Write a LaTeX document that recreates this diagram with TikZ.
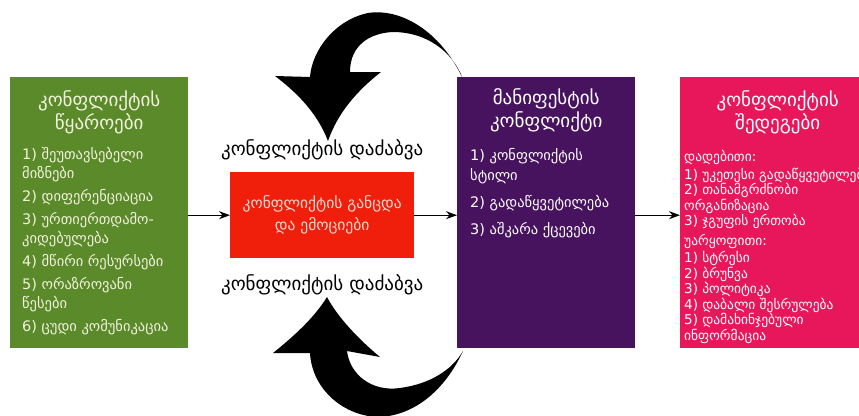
\documentclass[tikz,border=0pt]{standalone}
\usepackage{fontspec}
\setmainfont{DejaVu Sans}
\usetikzlibrary{arrows.meta, positioning}
\definecolor{SrcGreen}{HTML}{5B8A2B}
\definecolor{SrcText}{HTML}{F2F2DC}
\definecolor{FeelRed}{HTML}{EF1F0C}
\definecolor{FeelText}{HTML}{FADAD0}
\definecolor{ManPurple}{HTML}{47135F}
\definecolor{ResPink}{HTML}{E8175B}

\begin{document}
\begin{tikzpicture}[x=1pt, y=-1pt, >={Stealth[length=11pt, width=8pt]},
  box/.style={rectangle, inner sep=0pt, anchor=north west},
  boxtitle/.style={align=center, inner sep=0pt, font=\fontsize{19}{23}\selectfont},
  boxlist/.style={align=left, anchor=north west, inner sep=0pt, font=\fontsize{14.5}{19}\selectfont},
  strainlabel/.style={inner sep=0pt, font=\fontsize{19}{21}\selectfont},
  flow/.style={->, line width=1.3pt}]
  \useasboundingbox (0,0) rectangle (859,415);
  % Sources
  \node[box, fill=SrcGreen, minimum width=178pt, minimum height=271pt] (src) at (10,77) {};
  \node[boxtitle, text=SrcText, below=13pt of src.north] (srctitle) {კონფლიქტის\\წყაროები};
  \node[boxlist, text=SrcText] (srclist) at (22,147)
    {1) შეუთავსებელი\\მიზნები\\[4pt]
     2) დიფერენციაცია\\[4pt]
     3) ურთიერთდამო-\\კიდებულება\\[4pt]
     4) მწირი რესურსები\\[4pt]
     5) ორაზროვანი\\წესები\\[4pt]
     6) ცუდი კომუნიკაცია};
  % Felt conflict
  \node[box, fill=FeelRed, minimum width=184pt, minimum height=86pt] (feel) at (230,172) {};
  \node[align=center, text=FeelText, font=\fontsize{15.5}{22}\selectfont] at (feel.center)
    {კონფლიქტის განცდა\\და ემოციები};
  \node[strainlabel, above=12pt of feel] (strainup) {კონფლიქტის დაძაბვა};
  \node[strainlabel, below=16pt of feel] (straindown) {კონფლიქტის დაძაბვა};
  % Manifest conflict
  \node[box, fill=ManPurple, minimum width=178pt, minimum height=271pt] (man) at (457,77) {};
  \node[boxtitle, text=white, below=11pt of man.north] (mantitle) {მანიფესტის\\კონფლიქტი};
  \node[boxlist, text=white, font=\fontsize{14.5}{20}\selectfont] (manlist) at (470,148)
    {1) კონფლიქტის\\სტილი\\[7pt]
     2) გადაწყვეტილება\\[7pt]
     3) აშკარა ქცევები};
  % Outcomes
  \node[box, fill=ResPink, minimum width=195pt, minimum height=271pt] (res) at (680,77) {};
  \node[boxtitle, text=white, below=13pt of res.north] (restitle) {კონფლიქტის\\შედეგები};
  \node[boxlist, text=white, font=\fontsize{13.5}{15.5}\selectfont] (reslist) at (684,150)
    {დადებითი:\\[2pt]
     1) უკეთესი გადაწყვეტილება\\
     2) თანამგრძნობი\\
     ორგანიზაცია\\
     3) ჯგუფის ერთობა\\[4pt]
     უარყოფითი:\\[2pt]
     1) სტრესი\\
     2) ბრუნვა\\
     3) პოლიტიკა\\
     4) დაბალი შესრულება\\
     5) დამახინჯებული\\
     ინფორმაცია};
  % Flow
  \draw[flow] (src.east |- feel.west) -- (feel.west);
  \draw[flow] (feel.east) -- (feel.east -| man.west);
  \draw[flow] (man.east |- feel.east) -- (res.west |- feel.east);
  % Feedback arrows
  \fill (463,79) .. controls (440,30) and (400,8) .. (368,13)
    .. controls (335,20) and (312,50) .. (310,77) -- (275,76)
    .. controls (300,95) and (318,115) .. (328,141)
    .. controls (338,112) and (358,90) .. (381,72) -- (350,72)
    .. controls (350,45) and (370,33) .. (393,32)
    .. controls (425,32) and (452,50) .. (463,79) -- cycle;
  \fill (463,351) .. controls (445,390) and (415,415) .. (380,417)
    .. controls (345,417) and (312,390) .. (310,353) -- (273,353)
    .. controls (298,333) and (316,315) .. (327,297)
    .. controls (337,316) and (357,338) .. (380,357) -- (347,351)
    .. controls (350,375) and (372,392) .. (400,388)
    .. controls (430,384) and (452,370) .. (463,351) -- cycle;
\end{tikzpicture}
\end{document}
